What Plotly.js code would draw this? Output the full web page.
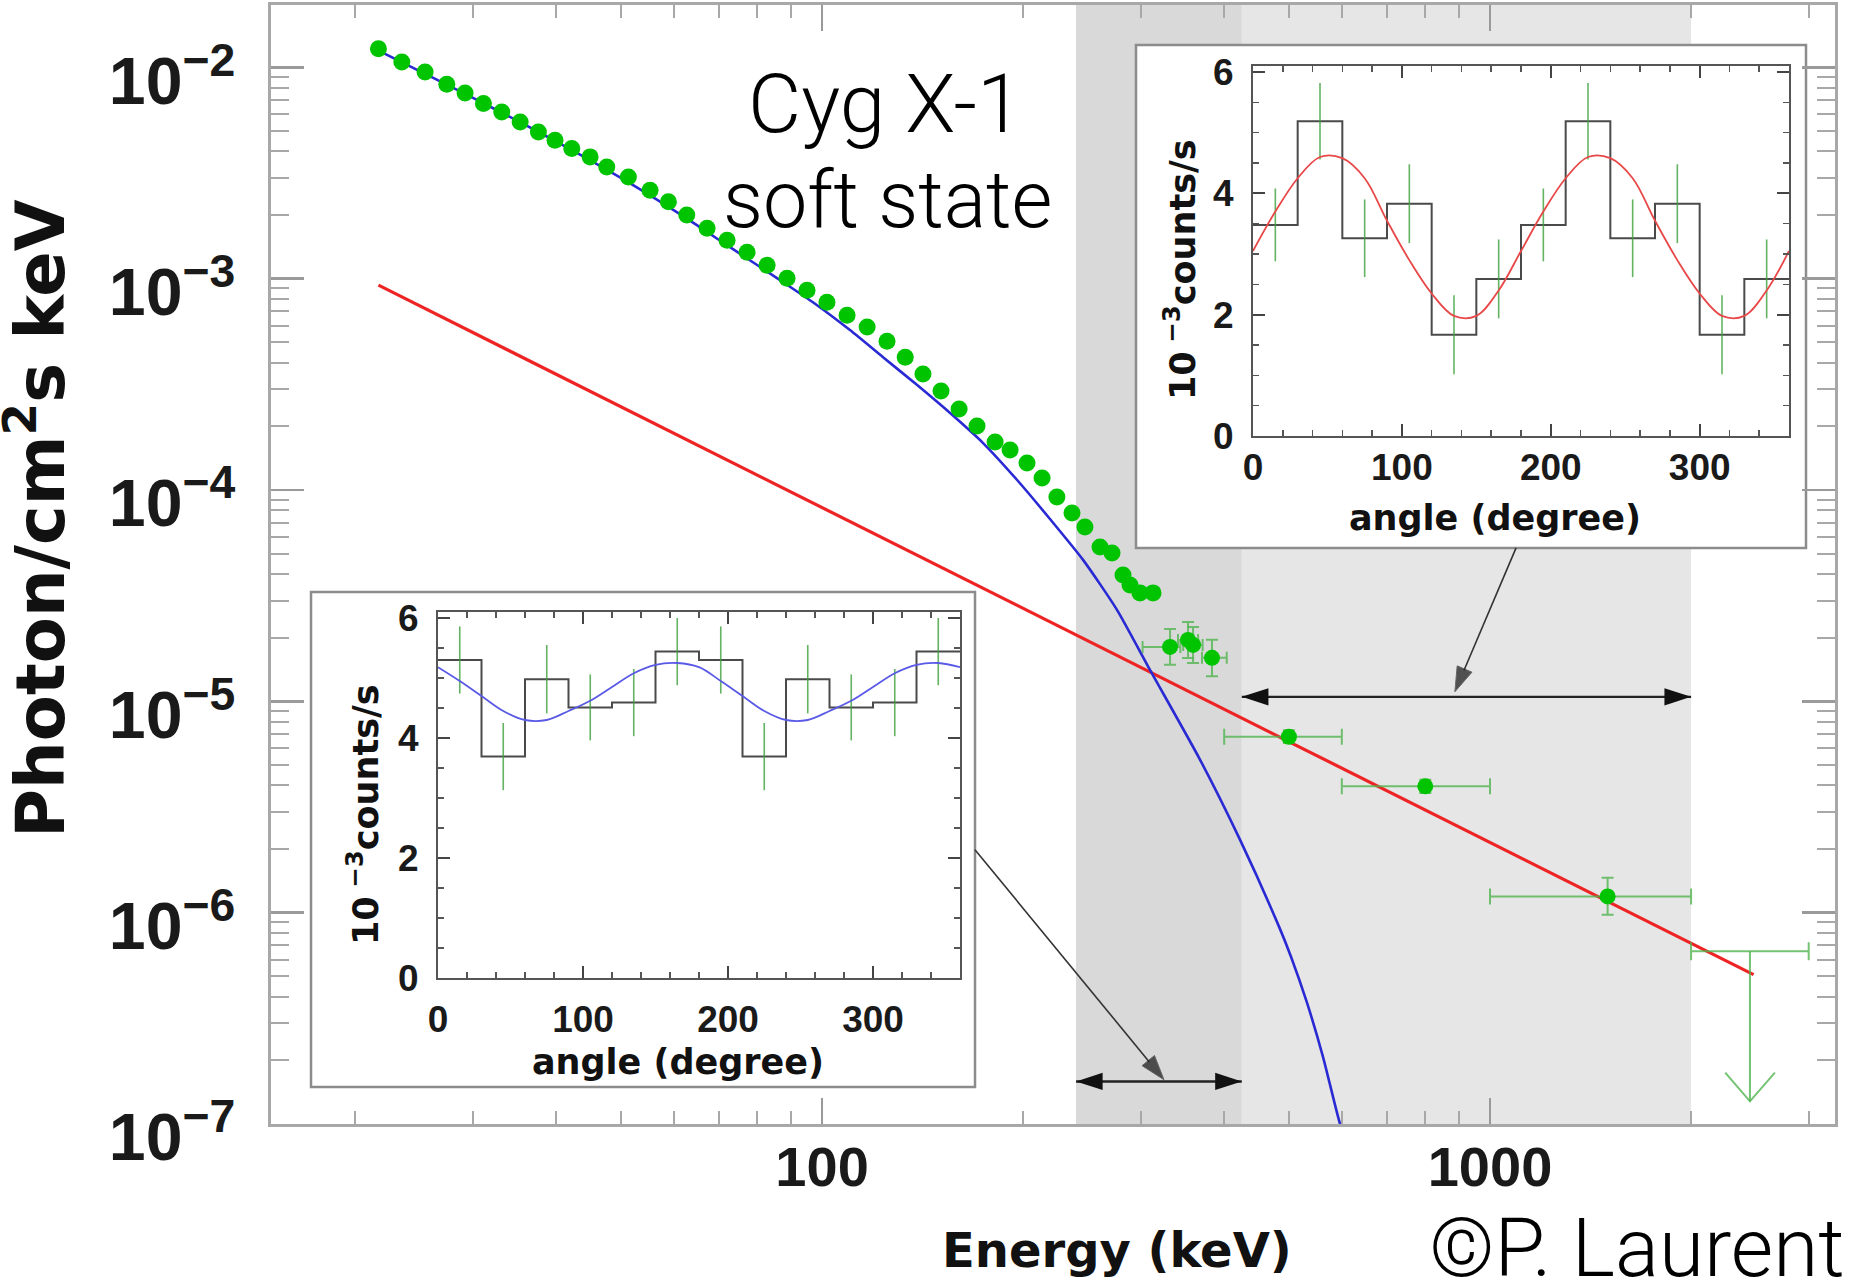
<!DOCTYPE html>
<html><head><meta charset="utf-8">
<script src="https://cdn.plot.ly/plotly-3.0.1.min.js"></script>
<style>html,body{margin:0;padding:0;background:#fff}#chart{width:1860px;height:1281px}</style>
</head><body><div id="chart"></div>
<script>
// ---------------- data ----------------
// measured spectrum, energy (keV) / flux (photon/cm2/s/keV)
const spectrumE = [21.67, 23.49, 25.45, 27.43, 29.21, 31.12, 33.15, 35.32, 37.61, 39.83, 42.20, 44.95, 47.61, 51.29, 55.27, 58.88, 62.73, 67.28, 72.08, 77.22, 82.74, 88.63, 94.95, 101.7, 109.0, 116.8, 125.1, 133.2, 141.6, 150.7, 160.4, 170.6, 181.6, 191.2, 202.7, 213.5, 224.7, 236.7, 247.5, 260.7, 271.7, 282.2, 289.1, 299.2, 313.0];
const spectrumF = [1.226e-2, 1.059e-2, 9.50e-3, 8.31e-3, 7.56e-3, 6.74e-3, 6.15e-3, 5.51e-3, 4.94e-3, 4.52e-3, 4.13e-3, 3.77e-3, 3.38e-3, 3.03e-3, 2.62e-3, 2.31e-3, 2.00e-3, 1.733e-3, 1.521e-3, 1.334e-3, 1.158e-3, 1.005e-3, 8.82e-4, 7.74e-4, 6.72e-4, 5.90e-4, 5.06e-4, 4.25e-4, 3.54e-4, 2.94e-4, 2.42e-4, 2.01e-4, 1.687e-4, 1.546e-4, 1.341e-4, 1.139e-4, 9.27e-5, 7.78e-5, 6.69e-5, 5.38e-5, 5.04e-5, 3.96e-5, 3.55e-5, 3.26e-5, 3.26e-5];

// points with error bars around 300-400 keV
const clusterE = [331.9, 353.1, 359.3, 383.5];
const clusterF = [1.81e-5, 1.953e-5, 1.85e-5, 1.606e-5];
const clusterEminus = [30, 12, 12, 13];
const clusterEplus = [12, 12.5, 12, 20];
const clusterFplus = [0.39e-5, 0.42e-5, 0.40e-5, 0.35e-5];
const clusterFminus = [0.32e-5, 0.35e-5, 0.33e-5, 0.29e-5];

// high-energy points
const hiE = [500, 800, 1500];
const hiF = [6.80e-6, 3.96e-6, 1.194e-6];
const hiEminus = [100, 200, 500];
const hiEplus = [100, 200, 500];
const hiFplus = [0.50e-6, 0.30e-6, 0.27e-6];
const hiFminus = [0.45e-6, 0.28e-6, 0.216e-6];

// upper limit 2000-3000 keV
const ulE = [2450];
const ulF = [6.56e-7];
const ulEminus = [450];
const ulEplus = [550];
const ulTipF = 1.28e-7;
const ulChevronE = [2250, 2450, 2670];
const ulChevronF = [1.75e-7, 1.28e-7, 1.75e-7];

// power-law component (red)
const powerlawE = [21.67, 2481];
const powerlawF = [9.32e-4, 5.09e-7];

// comptonisation component (blue)
const comptE = [21.64, 25.02, 29.72, 35.32, 41.97, 52.13, 61.94, 72.81, 86.52, 98.3, 110.1, 123.4, 138.8, 155.5, 174.2, 195.9, 219.4, 245.9, 276.4, 309.7, 368.1, 422.5, 483.2, 503.6, 532.1, 562.3, 596.4, 605];
const comptF = [1.203e-2, 9.57e-3, 7.29e-3, 5.50e-3, 4.10e-3, 2.77e-3, 1.975e-3, 1.409e-3, 9.84e-4, 7.49e-4, 5.71e-4, 4.25e-4, 3.137e-4, 2.312e-4, 1.668e-4, 1.115e-4, 7.29e-5, 4.67e-5, 2.71e-5, 1.409e-5, 5.29e-6, 2.21e-6, 8.59e-7, 6.19e-7, 3.75e-7, 2.08e-7, 1.0e-7, 9.0e-8];

// energy bands (keV)
const bandDarkE = [240, 425];
const bandLightE = [425, 2000];
const darkArrowF = 1.59e-7;
const lightArrowF = 1.05e-5;
const pointerLowE = [169.4, 325];
const pointerLowF = [1.986e-6, 1.62e-7];
const pointerHighE = [1094, 886];
const pointerHighF = [5.32e-5, 1.11e-5];

// polarisation insets
const angleBins = [0, 30, 60, 90, 120, 150, 180, 210, 240, 270, 300, 330];
const angleCenters = [15, 45, 75, 105, 135, 165, 195, 225, 255, 285, 315, 345];
const lowCounts = [5.30, 3.69, 4.98, 4.51, 4.59, 5.44, 5.30, 3.69, 4.98, 4.51, 4.59, 5.44];
const lowErr = [0.56, 0.56, 0.57, 0.55, 0.56, 0.56, 0.56, 0.56, 0.57, 0.55, 0.56, 0.56];
const fitAngles = [0, 15, 30, 45, 60, 75, 90, 105, 120, 135, 150, 165, 180, 195, 210, 225, 240, 255, 270, 285, 300, 315, 330, 345, 360];
const lowFit = [5.18, 4.95, 4.70, 4.45, 4.30, 4.30, 4.45, 4.62, 4.85, 5.08, 5.22, 5.25, 5.18, 4.95, 4.70, 4.45, 4.30, 4.30, 4.45, 4.62, 4.85, 5.08, 5.22, 5.25, 5.18];
const highCounts = [3.48, 5.19, 3.26, 3.83, 1.67, 2.59, 3.48, 5.19, 3.26, 3.83, 1.67, 2.59];
const highErr = [0.60, 0.63, 0.64, 0.65, 0.65, 0.65, 0.60, 0.63, 0.64, 0.65, 0.65, 0.65];
const highFit = [3.05, 3.70, 4.25, 4.60, 4.58, 4.25, 3.55, 2.90, 2.35, 1.98, 1.98, 2.40, 3.05, 3.70, 4.25, 4.60, 4.58, 4.25, 3.55, 2.90, 2.35, 1.98, 1.98, 2.40, 3.05];

// ---------------- layout helpers ----------------
const W = 1860, H = 1281, L = 271, R = 25, T = 5, B = 157;
const PW = W - L - R, PH = H - T - B;
const fx = p => (p - L) / PW;
const fy = p => (H - B - p) / PH;

const GREEN = '#00c400';
const ERRG = 'rgba(80,180,80,0.8)';
const titleFont = '"DejaVu Sans", "Liberation Sans", sans-serif';
const lightFont = 'Roboto, "Liberation Sans", sans-serif';
const mainTickFont = {family: '"Liberation Sans Narrow", "Arial Narrow", "Liberation Sans", sans-serif', size: 53, color: '#1a1a1a', weight: 'bold'};
const xTickFont = {family: '"Liberation Sans Narrow", "Arial Narrow", "Liberation Sans", sans-serif', size: 56, color: '#1a1a1a', weight: 'bold'};
const insetTickFont = {family: '"Liberation Sans", Arial, sans-serif', size: 37, color: '#1a1a1a', weight: 'bold'};

const stepX = angleBins.concat([360]);
const stepLow = lowCounts.concat([lowCounts[lowCounts.length - 1]]);
const stepHigh = highCounts.concat([highCounts[highCounts.length - 1]]);

const traces = [
  {x: powerlawE, y: powerlawF, mode: 'lines', line: {color: '#ee2424', width: 3.2}, xaxis: 'x', yaxis: 'y'},
  {x: comptE, y: comptF, mode: 'lines', line: {color: '#2a2ad4', width: 2.6, shape: 'spline', smoothing: 0.6}, xaxis: 'x', yaxis: 'y'},
  {x: spectrumE, y: spectrumF, mode: 'markers', marker: {color: GREEN, size: 17}, xaxis: 'x', yaxis: 'y'},
  {x: clusterE, y: clusterF, mode: 'markers', marker: {color: GREEN, size: 16},
   error_x: {type: 'data', symmetric: false, array: clusterEplus, arrayminus: clusterEminus, color: ERRG, thickness: 2, width: 6},
   error_y: {type: 'data', symmetric: false, array: clusterFplus, arrayminus: clusterFminus, color: ERRG, thickness: 2, width: 6}},
  {x: hiE, y: hiF, mode: 'markers', marker: {color: GREEN, size: 16},
   error_x: {type: 'data', symmetric: false, array: hiEplus, arrayminus: hiEminus, color: ERRG, thickness: 2, width: 8},
   error_y: {type: 'data', symmetric: false, array: hiFplus, arrayminus: hiFminus, color: ERRG, thickness: 2, width: 6}},
  {x: ulE, y: ulF, mode: 'markers', marker: {color: GREEN, size: 1, opacity: 0},
   error_x: {type: 'data', symmetric: false, array: ulEplus, arrayminus: ulEminus, color: ERRG, thickness: 2, width: 9}},
  {x: [ulE[0], ulE[0]], y: [ulF[0], ulTipF], mode: 'lines', line: {color: ERRG, width: 2}},
  {x: ulChevronE, y: ulChevronF, mode: 'lines', line: {color: ERRG, width: 2}},
  // double arrows over the bands
  {x: bandDarkE, y: [darkArrowF, darkArrowF], mode: 'lines+markers', line: {color: '#222', width: 2.4},
   marker: {symbol: 'arrow', size: 28, angle: [-90, 90], color: '#111'}},
  {x: bandLightE, y: [lightArrowF, lightArrowF], mode: 'lines+markers', line: {color: '#222', width: 2.4},
   marker: {symbol: 'arrow', size: 28, angle: [-90, 90], color: '#111'}},
  // pointers from insets
  {x: pointerLowE, y: pointerLowF, mode: 'lines+markers', line: {color: '#333', width: 1.6},
   marker: {symbol: 'arrow', size: [0, 26], angleref: 'previous', color: '#111'}},
  {x: pointerHighE, y: pointerHighF, mode: 'lines+markers', line: {color: '#333', width: 1.6},
   marker: {symbol: 'arrow', size: [0, 26], angleref: 'previous', color: '#111'}},
  // inset 1 (bottom left, 240-425 keV)
  {x: stepX, y: stepLow, mode: 'lines', line: {shape: 'hv', color: '#4a4a4a', width: 2}, xaxis: 'x2', yaxis: 'y2'},
  {x: angleCenters, y: lowCounts, mode: 'markers', marker: {size: 1, opacity: 0}, xaxis: 'x2', yaxis: 'y2',
   error_y: {type: 'data', array: lowErr, color: 'rgba(60,160,60,0.8)', thickness: 1.6, width: 0}},
  {x: fitAngles, y: lowFit, mode: 'lines', line: {shape: 'spline', color: '#5a5ae6', width: 1.8}, xaxis: 'x2', yaxis: 'y2'},
  // inset 2 (top right, 425-2000 keV)
  {x: stepX, y: stepHigh, mode: 'lines', line: {shape: 'hv', color: '#4a4a4a', width: 2}, xaxis: 'x3', yaxis: 'y3'},
  {x: angleCenters, y: highCounts, mode: 'markers', marker: {size: 1, opacity: 0}, xaxis: 'x3', yaxis: 'y3',
   error_y: {type: 'data', array: highErr, color: 'rgba(60,160,60,0.8)', thickness: 1.6, width: 0}},
  {x: fitAngles, y: highFit, mode: 'lines', line: {shape: 'spline', color: '#e84848', width: 1.8}, xaxis: 'x3', yaxis: 'y3'}
];

function insetX(domain, anchor, standoff) {
  return {domain: domain, anchor: anchor, range: [0, 360], tick0: 0, dtick: 100,
    ticks: 'inside', ticklen: 12, tickwidth: 2, tickcolor: '#444',
    minor: {ticks: 'inside', ticklen: 6, tickwidth: 1.5, tickcolor: '#555', dtick: 20},
    showline: true, linecolor: '#555', linewidth: 2, mirror: 'allticks',
    showgrid: false, zeroline: false, tickfont: insetTickFont, ticklabelstandoff: standoff};
}
function insetY(domain, anchor) {
  return {domain: domain, anchor: anchor, range: [0, 6.1], tick0: 0, dtick: 2,
    ticks: 'inside', ticklen: 12, tickwidth: 2, tickcolor: '#444',
    minor: {ticks: 'inside', ticklen: 6, tickwidth: 1.5, tickcolor: '#555', dtick: 0.5},
    showline: true, linecolor: '#555', linewidth: 2, mirror: 'allticks',
    showgrid: false, zeroline: false, tickfont: insetTickFont, ticklabelstandoff: 10};
}

const layout = {
  width: W, height: H,
  margin: {l: L, r: R, t: T, b: B},
  paper_bgcolor: '#fff', plot_bgcolor: '#fff',
  showlegend: false, hovermode: false,
  xaxis: {type: 'log', range: [1.175, 3.5165], dtick: 1, exponentformat: 'none',
    ticks: 'inside', ticklen: 26, tickwidth: 2.5, tickcolor: '#9a9a9a',
    minor: {ticks: 'inside', ticklen: 13, tickwidth: 2, tickcolor: '#a8a8a8', dtick: 'D1', showgrid: false},
    showline: true, linecolor: '#a8a8a8', linewidth: 3, mirror: 'allticks',
    showgrid: false, zeroline: false, tickfont: xTickFont, ticklabelstandoff: -8},
  yaxis: {type: 'log', range: [-7, -1.705], dtick: 1, exponentformat: 'power',
    ticks: 'inside', ticklen: 33, tickwidth: 2.5, tickcolor: '#9a9a9a',
    minor: {ticks: 'inside', ticklen: 18, tickwidth: 2, tickcolor: '#a8a8a8', dtick: 'D1', showgrid: false},
    showline: true, linecolor: '#a8a8a8', linewidth: 3, mirror: 'allticks',
    showgrid: false, zeroline: false, tickfont: mainTickFont, ticklabelstandoff: 22, ticklabelshift: 13},
  xaxis2: insetX([fx(438), fx(960)], 'y2', 8),
  yaxis2: insetY([fy(978), fy(612)], 'x2'),
  xaxis3: insetX([fx(1253), fx(1789)], 'y3', -2),
  yaxis3: insetY([fy(436), fy(66)], 'x3'),
  shapes: [
    {type: 'rect', xref: 'x', yref: 'paper', x0: bandDarkE[0], x1: bandDarkE[1], y0: 0, y1: 1, fillcolor: '#d9d9d9', line: {width: 0}, layer: 'below'},
    {type: 'rect', xref: 'x', yref: 'paper', x0: bandLightE[0], x1: bandLightE[1], y0: 0, y1: 1, fillcolor: '#e6e6e6', line: {width: 0}, layer: 'below'},
    {type: 'rect', xref: 'paper', yref: 'paper', x0: fx(311), x1: fx(975), y0: fy(1087), y1: fy(592), fillcolor: '#fff', line: {color: '#8c8c8c', width: 2.5}, layer: 'below'},
    {type: 'rect', xref: 'paper', yref: 'paper', x0: fx(1136), x1: fx(1806), y0: fy(548), y1: fy(45), fillcolor: '#fff', line: {color: '#8c8c8c', width: 2.5}, layer: 'below'}
  ],
  annotations: [
    {xref: 'paper', yref: 'paper', x: fx(885), y: fy(104), text: 'Cyg X-1', showarrow: false, xanchor: 'center', yanchor: 'middle',
     font: {family: lightFont, size: 82, weight: 300, color: '#000'}},
    {xref: 'paper', yref: 'paper', x: fx(887), y: fy(200), text: 'soft state', showarrow: false, xanchor: 'center', yanchor: 'middle',
     font: {family: lightFont, size: 79, weight: 300, color: '#000'}},
    {xref: 'paper', yref: 'paper', x: fx(1637), y: fy(1248), text: '©P. Laurent', showarrow: false, xanchor: 'center', yanchor: 'middle',
     font: {family: lightFont, size: 82, weight: 300, color: '#000'}},
    {xref: 'paper', yref: 'paper', x: fx(1117), y: fy(1250), text: 'Energy (keV)', showarrow: false, xanchor: 'center', yanchor: 'middle',
     font: {family: titleFont, size: 48, weight: 'bold', color: '#111'}},
    {xref: 'paper', yref: 'paper', x: fx(36), y: fy(519), text: 'Photon/cm<sup>2</sup>s keV', textangle: -90, showarrow: false, xanchor: 'center', yanchor: 'middle',
     font: {family: titleFont, size: 67, weight: 'bold', color: '#111'}},
    {xref: 'paper', yref: 'paper', x: fx(363), y: fy(815), text: '10<sup> −3</sup>counts/s', textangle: -90, showarrow: false, xanchor: 'center', yanchor: 'middle',
     font: {family: titleFont, size: 35, weight: 'bold', color: '#111'}},
    {xref: 'paper', yref: 'paper', x: fx(678), y: fy(1062), text: 'angle (degree)', showarrow: false, xanchor: 'center', yanchor: 'middle',
     font: {family: titleFont, size: 35, weight: 'bold', color: '#111'}},
    {xref: 'paper', yref: 'paper', x: fx(1180), y: fy(270), text: '10<sup> −3</sup>counts/s', textangle: -90, showarrow: false, xanchor: 'center', yanchor: 'middle',
     font: {family: titleFont, size: 35, weight: 'bold', color: '#111'}},
    {xref: 'paper', yref: 'paper', x: fx(1495), y: fy(518), text: 'angle (degree)', showarrow: false, xanchor: 'center', yanchor: 'middle',
     font: {family: titleFont, size: 35, weight: 'bold', color: '#111'}}
  ]
};

Plotly.newPlot('chart', traces, layout, {displayModeBar: false, staticPlot: true});
</script></body></html>
